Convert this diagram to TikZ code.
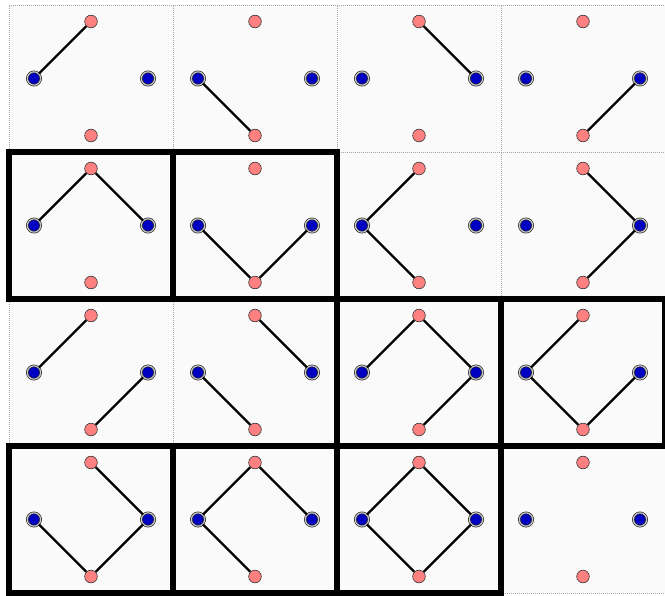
\documentclass[tikz,border=0pt]{standalone}
\usepackage{xcolor}
\usepackage{tikz}
\usetikzlibrary{positioning}
\definecolor{dotPink}{HTML}{FF8080}
\definecolor{dotBlue}{HTML}{0000C0}
\definecolor{cellBg}{HTML}{FAFAFA}

\begin{document}
\begin{tikzpicture}[x=0.75pt, y=-0.75pt,
  cellbox/.style={rectangle,draw=gray!70,densely dotted,line width=0.5pt,fill=cellBg,
    minimum width=123pt,minimum height=110.25pt,inner sep=0pt},
  pinkdot/.style={circle,draw=black!80,line width=0.45pt,fill=dotPink,minimum size=9.5pt,inner sep=0pt},
  bluedot/.style={circle,draw=black!85,line width=0.5pt,double=gray!45,double distance=0.9pt,
    fill=dotBlue,minimum size=10pt,inner sep=0pt},
  edge/.style={line width=1.6pt},
  boldframe/.style={line width=4.5pt}]
\useasboundingbox (0,0) rectangle (665,596);
% --- cells and vertices ---
\foreach \c in {0,...,3}
  \foreach \r in {0,...,3} {
    \node[cellbox] (cell\c\r) at ({91+164*\c},{78.5+147*\r}) {};
    \node[pinkdot] (T\c\r) at ({91+164*\c},{21.5+147*\r}) {};
    \node[pinkdot] (B\c\r) at ({91+164*\c},{135.5+147*\r}) {};
    \node[bluedot] (L\c\r) at ({34+164*\c},{78.5+147*\r}) {};
    \node[bluedot] (R\c\r) at ({148+164*\c},{78.5+147*\r}) {};
  }
% --- row 0 ---
\draw[edge] (L00)--(T00);
\draw[edge] (L10)--(B10);
\draw[edge] (T20)--(R20);
\draw[edge] (B30)--(R30);
% --- row 1 ---
\draw[edge] (L01)--(T01)--(R01);
\draw[edge] (L11)--(B11)--(R11);
\draw[edge] (T21)--(L21)--(B21);
\draw[edge] (T31)--(R31)--(B31);
% --- row 2 ---
\draw[edge] (L02)--(T02);
\draw[edge] (B02)--(R02);
\draw[edge] (L12)--(B12);
\draw[edge] (T12)--(R12);
\draw[edge] (L22)--(T22)--(R22)--(B22);
\draw[edge] (T32)--(L32)--(B32)--(R32);
% --- row 3 ---
\draw[edge] (T03)--(R03)--(B03)--(L03);
\draw[edge] (B13)--(L13)--(T13)--(R13);
\draw[edge] (T23)--(R23)--(B23)--(L23)--(T23);
% --- bold frames ---
\foreach \n in {01,11,22,32,03,13,23}
  \draw[boldframe] (cell\n.north west) rectangle (cell\n.south east);
\end{tikzpicture}
\end{document}
